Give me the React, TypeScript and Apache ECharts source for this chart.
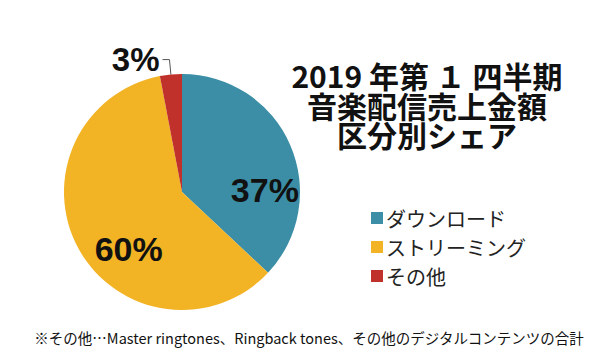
import React, { useEffect, useRef } from "react";
import * as echarts from "echarts";

const categories = ["ダウンロード", "ストリーミング", "その他"];
const values = [37, 60, 3];
const colors = ["#3b8ea5", "#f2b325", "#c1312c"];
const titleLines = ["2019 年第 １ 四半期", "音楽配信売上金額", "区分別シェア"];
const footnote = "※その他…Master ringtones、Ringback tones、その他のデジタルコンテンツの合計";

export default function App() {
  const ref = useRef<HTMLDivElement>(null);
  useEffect(() => {
    if (!ref.current) return;
    const chart = echarts.init(ref.current, null, { renderer: "svg" });
    const labelBase = {
      formatter: "{d}%",
      fontSize: 34,
      fontWeight: "bold",
      color: "#111",
      fontFamily: "Liberation Sans, Arial, sans-serif",
    };
    const offsets: any[] = [[26, 23], [1, 27], null];
    chart.setOption({
      animation: false,
      backgroundColor: "#fff",
      legend: {
        orient: "vertical",
        left: 366,
        top: 203,
        icon: "rect",
        itemWidth: 12,
        itemHeight: 12,
        itemGap: 9,
        data: categories,
        textStyle: {
          fontSize: 20,
          color: "#222",
          fontFamily: "Noto Sans CJK JP",
          padding: [0, 0, 0, -2],
        },
      },
      graphic: [
        ...titleLines.map((t, i) => ({
          type: "text",
          x: 427,
          y: [75, 105, 134][i],
          style: {
            text: t,
            fontSize: 30,
            fontWeight: "bold",
            fill: "#111",
            fontFamily: "Noto Sans CJK JP",
            textAlign: "center",
            textVerticalAlign: "middle",
          },
        })),
        {
          type: "text",
          x: 309,
          y: 337,
          style: {
            text: footnote,
            fontSize: 14.5,
            fill: "#111",
            fontFamily: "Noto Sans CJK JP",
            textAlign: "center",
            textVerticalAlign: "middle",
          },
        },
      ],
      series: [
        {
          type: "pie",
          center: [182, 192],
          radius: 118,
          startAngle: 90,
          clockwise: true,
          avoidLabelOverlap: false,
          data: categories.map((name, i) => ({
            name,
            value: values[i],
            itemStyle: { color: colors[i] },
            label:
              offsets[i] != null
                ? { ...labelBase, position: "inside", offset: offsets[i] }
                : { ...labelBase, position: "outside", fontSize: 33, distanceToLabelLine: 3 },
            labelLine:
              offsets[i] != null
                ? { show: false }
                : { show: true, length: 15, length2: 7, lineStyle: { color: "#555", width: 1 } },
          })),
        },
      ],
    });
    return () => chart.dispose();
  }, []);
  return <div ref={ref} style={{ width: 600, height: 354, position: "absolute", left: 0, top: 0 }} />;
}
